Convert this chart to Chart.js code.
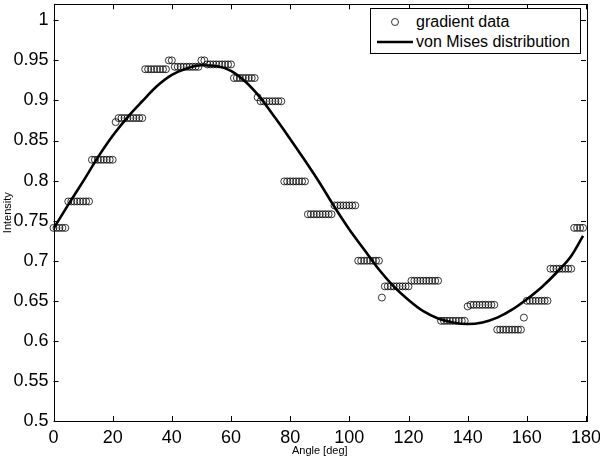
<!DOCTYPE html>
<html>
<head>
<meta charset="utf-8">
<script src="https://cdn.jsdelivr.net/npm/chart.js@4/dist/chart.umd.min.js"></script>
<style>
  html, body { margin: 0; padding: 0; background: #fff; }
  #wrap { position: relative; width: 600px; height: 459px; }
  #legend { position: absolute; border: 1px solid #000; background: #fff;
    font-family: "Liberation Sans", Arial, sans-serif; font-size: 16px; color: #000;
    padding: 3px 4px 2px 6px; line-height: 20px; box-sizing: border-box; }
  #legend .row { display: flex; align-items: center; white-space: nowrap; }
  #legend svg { margin-right: 3px; }
</style>
</head>
<body>
<div id="wrap">
  <canvas id="c" width="600" height="459"></canvas>
  <div id="legend"></div>
</div>
<script>
// ---- data ----
const angles = [
  0,1,2,3,4,5,6,7,8,9,10,11,12,13,14,15,16,17,18,19,
  20,21,22,23,24,25,26,27,28,29,30,31,32,33,34,35,36,37,38,39,
  40,41,42,43,44,45,46,47,48,49,50,51,52,53,54,55,56,57,58,59,
  60,61,62,63,64,65,66,67,68,69,70,71,72,73,74,75,76,77,78,79,
  80,81,82,83,84,85,86,87,88,89,90,91,92,93,94,95,96,97,98,99,
  100,101,102,103,104,105,106,107,108,109,110,111,112,113,114,115,116,117,118,119,
  120,121,122,123,124,125,126,127,128,129,130,131,132,133,134,135,136,137,138,139,
  140,141,142,143,144,145,146,147,148,149,150,151,152,153,154,155,156,157,158,159,
  160,161,162,163,164,165,166,167,168,169,170,171,172,173,174,175,176,177,178,179
];
const gradientData = [
  0.741,0.741,0.741,0.741,0.741,
  0.774,0.774,0.774,0.774,0.774,0.774,0.774,0.774,
  0.826,0.826,0.826,0.826,0.826,0.826,0.826,0.826,
  0.873,
  0.878,0.878,0.878,0.878,0.878,0.878,0.878,0.878,0.878,
  0.939,0.939,0.939,0.939,0.939,0.939,0.939,0.939,
  0.950,0.950,
  0.942,0.942,0.942,0.942,0.942,0.942,0.942,0.942,0.942,
  0.950,0.950,
  0.945,0.945,0.945,0.945,0.945,0.945,0.945,0.945,0.945,
  0.928,0.928,0.928,0.928,0.928,0.928,0.928,0.928,
  0.904,
  0.899,0.899,0.899,0.899,0.899,0.899,0.899,0.899,
  0.799,0.799,0.799,0.799,0.799,0.799,0.799,0.799,
  0.758,0.758,0.758,0.758,0.758,0.758,0.758,0.758,0.758,
  0.769,0.769,0.769,0.769,0.769,0.769,0.769,0.769,
  0.700,0.700,0.700,0.700,0.700,0.700,0.700,0.700,
  0.654,
  0.668,0.668,0.668,0.668,0.668,0.668,0.668,0.668,0.668,
  0.675,0.675,0.675,0.675,0.675,0.675,0.675,0.675,0.675,0.675,
  0.625,0.625,0.625,0.625,0.625,0.625,0.625,0.625,0.625,
  0.643,
  0.645,0.645,0.645,0.645,0.645,0.645,0.645,0.645,0.645,
  0.614,0.614,0.614,0.614,0.614,0.614,0.614,0.614,0.614,
  0.629,
  0.650,0.650,0.650,0.650,0.650,0.650,0.650,0.650,
  0.690,0.690,0.690,0.690,0.690,0.690,0.690,0.690,
  0.741,0.741,0.741,0.741
];
const fitAngles = [0,5,10,15,20,25,30,35,40,45,50,55,60,65,70,75,80,85,90,95,
  100,105,110,115,120,125,130,135,140,145,150,155,160,165,170,175,179];
const fitValues = [0.740,0.770,0.799,0.829,0.856,0.879,0.899,0.918,0.932,0.940,0.944,0.943,0.937,0.923,0.903,0.878,0.852,0.825,0.797,0.767,
  0.739,0.714,0.689,0.668,0.651,0.637,0.628,0.623,0.621,0.623,0.629,0.639,0.652,0.667,0.685,0.706,0.731];
const xTicks = [0,20,40,60,80,100,120,140,160,180];
const yTicks = [0.5,0.55,0.6,0.65,0.7,0.75,0.8,0.85,0.9,0.95,1];
const seriesLabels = ['gradient data','von Mises distribution'];
const xTitle = 'Angle [deg]';
const yTitle = 'Intensity';

const FONT = '"Liberation Sans", Arial, sans-serif';
const TICK_LEN = 5;

const boxTicks = {
  id: 'boxTicks',
  afterDraw(chart) {
    const {ctx, chartArea: a, scales} = chart;
    ctx.save();
    ctx.strokeStyle = '#000';
    ctx.lineWidth = 1;
    ctx.beginPath();
    scales.x.ticks.forEach(t => {
      const px = Math.round(scales.x.getPixelForValue(t.value)) + 0.5;
      ctx.moveTo(px, a.bottom); ctx.lineTo(px, a.bottom - TICK_LEN);
      ctx.moveTo(px, a.top); ctx.lineTo(px, a.top + TICK_LEN);
    });
    scales.y.ticks.forEach(t => {
      const py = Math.round(scales.y.getPixelForValue(t.value)) + 0.5;
      ctx.moveTo(a.left, py); ctx.lineTo(a.left + TICK_LEN, py);
      ctx.moveTo(a.right, py); ctx.lineTo(a.right - TICK_LEN, py);
    });
    ctx.stroke();
    ctx.strokeRect(Math.round(a.left) + 0.5, Math.round(a.top) + 0.5,
      Math.round(a.right - a.left), Math.round(a.bottom - a.top));
    ctx.restore();
  }
};

const chart = new Chart(document.getElementById('c'), {
  type: 'scatter',
  data: {
    datasets: [
      {
        label: seriesLabels[0],
        data: angles.map((a, i) => ({x: a, y: gradientData[i]})),
        showLine: false,
        pointStyle: 'circle',
        pointRadius: 3.5,
        pointHoverRadius: 3.5,
        borderColor: '#000',
        borderWidth: 0.8,
        backgroundColor: 'rgba(0,0,0,0)',
        clip: false,
        order: 2
      },
      {
        label: seriesLabels[1],
        type: 'line',
        data: fitAngles.map((a, i) => ({x: a, y: fitValues[i]})),
        showLine: true,
        borderColor: '#000',
        borderWidth: 2.6,
        pointRadius: 0,
        cubicInterpolationMode: 'monotone',
        fill: false,
        order: 1
      }
    ]
  },
  options: {
    responsive: false,
    animation: false,
    devicePixelRatio: 1,
    layout: { padding: { top: 2, right: 14, left: 0, bottom: 0 } },
    plugins: { legend: { display: false }, tooltip: { enabled: false } },
    scales: {
      x: {
        type: 'linear', min: 0, max: 180,
        afterBuildTicks: s => { s.ticks = xTicks.map(v => ({value: v})); },
        afterFit: s => { s.height = 38; s.paddingLeft = 0; s.paddingRight = 0; },
        grid: { display: false, drawTicks: false },
        border: { display: false },
        ticks: { color: '#000', font: { family: FONT, size: 18 }, padding: 6, maxRotation: 0, autoSkip: false },
        title: { display: true, text: xTitle, color: '#000', font: { family: FONT, size: 11 }, padding: { top: 0, bottom: 1 } }
      },
      y: {
        type: 'linear', min: 0.5, max: 1.02,
        afterBuildTicks: s => { s.ticks = yTicks.map(v => ({value: v})); },
        afterFit: s => { s.width = 53.5; s.paddingTop = 0; s.paddingBottom = 0; },
        grid: { display: false, drawTicks: false },
        border: { display: false },
        ticks: { color: '#000', font: { family: FONT, size: 18 }, padding: 5,
          callback: v => String(+Number(v).toFixed(2)) },
        title: { display: true, text: yTitle, color: '#000', font: { family: FONT, size: 11 }, padding: { top: 1, bottom: 0 } }
      }
    }
  },
  plugins: [boxTicks]
});

// legend overlay built from the dataset labels
const lg = document.getElementById('legend');
chart.data.datasets.forEach((ds, i) => {
  const row = document.createElement('div');
  row.className = 'row';
  const icon = i === 0
    ? '<svg width="36" height="14"><circle cx="18" cy="7" r="3.5" fill="none" stroke="#000" stroke-width="0.8"/></svg>'
    : '<svg width="36" height="14"><line x1="0" y1="7" x2="36" y2="7" stroke="#000" stroke-width="2.6"/></svg>';
  row.innerHTML = icon + '<span>' + ds.label + '</span>';
  lg.appendChild(row);
});
lg.style.left = '370px';
lg.style.top = '8px';
lg.style.width = '211px';
lg.style.height = '46px';
</script>
</body>
</html>
